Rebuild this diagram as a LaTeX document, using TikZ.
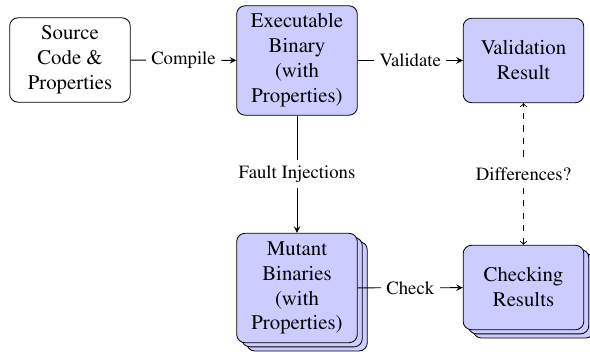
\documentclass[tikz,border=0pt]{standalone}
\usepackage[T1]{fontenc}
\usepackage{times}
\usetikzlibrary{shadows,arrows}
\begin{document}
\begin{tikzpicture}[x=0.4808pt,y=-0.4808pt,
  box/.style={draw=black, rounded corners=4pt, align=center, inner sep=0pt, minimum width=58pt},
  sbox/.style={box, fill=blue!20},
  lbl/.style={fill=white, font=\small, inner sep=2.6pt},
  arr/.style={-stealth},
  darr/.style={dashed, <->}]
\useasboundingbox (0,0) rectangle (590,351);
\node[box, minimum height=40.6pt] (src) at (70,60) {Source\\Code \&\\Properties};
\node[sbox, minimum height=52.6pt] (exe) at (297,60.5) {Executable\\Binary\\(with\\Properties)};
\node[sbox, minimum height=40.6pt] (val) at (523.5,60.5) {Validation\\Result};
\node[sbox, minimum height=52.6pt, double copy shadow={shadow xshift=2.4pt, shadow yshift=-2pt, fill=blue!20, draw=black}] (mut) at (297,288) {Mutant\\Binaries\\(with\\Properties)};
\node[sbox, minimum height=40.6pt, double copy shadow={shadow xshift=2.4pt, shadow yshift=-2pt, fill=blue!20, draw=black}] (chk) at (523.5,287.5) {Checking\\Results};
\draw[arr] (src) -- node[lbl]{Compile} (exe);
\draw[arr] (exe) -- node[lbl]{Validate} (val);
\draw[arr] (exe) -- node[lbl]{Fault Injections} (mut);
\draw[arr] (mut) -- node[lbl]{Check} (chk);
\draw[darr] (chk) -- node[lbl]{Differences?} (val);
\end{tikzpicture}
\end{document}
